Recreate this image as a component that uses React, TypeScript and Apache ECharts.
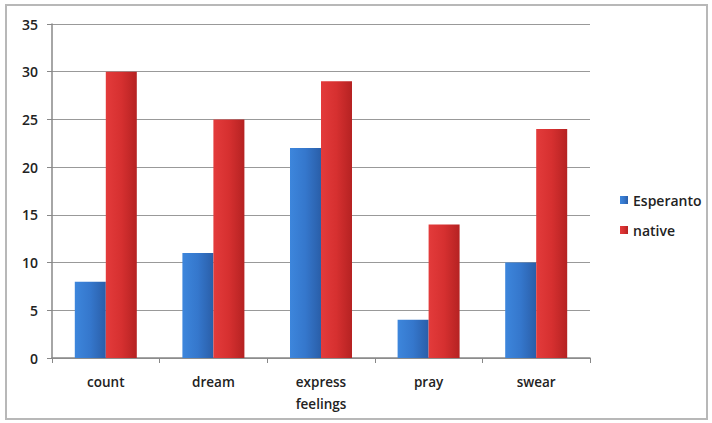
import React, { useEffect, useRef } from "react";
import * as echarts from "echarts";

const categories = ["count", "dream", "express\nfeelings", "pray", "swear"];
const esperanto = [8, 11, 22, 4, 10];
const native = [30, 25, 29, 14, 24];

export default function App() {
  const ref = useRef<HTMLDivElement>(null);
  useEffect(() => {
    const chart = echarts.init(ref.current!, null, { renderer: "svg" });
    const font = "Open Sans";
    const grad = (a: string, b: string, c: string) =>
      new echarts.graphic.LinearGradient(0, 0, 1, 0, [
        { offset: 0, color: a },
        { offset: 0.5, color: b },
        { offset: 1, color: c },
      ]);
    chart.setOption({
      animation: false,
      grid: { left: 52, right: 122, top: 24, bottom: 65 },
      legend: {
        orient: "vertical",
        left: 615,
        top: 188,
        itemWidth: 8,
        itemHeight: 8,
        itemGap: 16,
        icon: "rect",
        textStyle: { fontFamily: font, fontSize: 14, color: "#222", fontWeight: 600 },
        data: ["Esperanto", "native"],
      },
      xAxis: {
        type: "category",
        data: categories,
        axisLine: { lineStyle: { color: "#888", width: 1.5 } },
        axisTick: { show: true, length: 5, lineStyle: { color: "#888" } },
        axisLabel: {
          margin: 13,
          fontFamily: font,
          fontSize: 13.5,
          color: "#222",
          fontWeight: 600,
          lineHeight: 22,
        },
      },
      yAxis: {
        type: "value",
        min: 0,
        max: 35,
        interval: 5,
        axisLine: { show: true, lineStyle: { color: "#888", width: 1.5 } },
        axisTick: { show: true, length: 5, lineStyle: { color: "#888" } },
        splitLine: { lineStyle: { color: "#999" } },
        axisLabel: { margin: 14, fontFamily: font, fontSize: 14, color: "#222", fontWeight: 600 },
      },
      series: [
        {
          name: "Esperanto",
          type: "bar",
          data: esperanto,
          barWidth: 31,
          barGap: "0%",
          itemStyle: { color: grad("#3d86dc", "#3577cc", "#2a5ea8") },
        },
        {
          name: "native",
          type: "bar",
          data: native,
          barWidth: 31,
          barGap: "0%",
          itemStyle: { color: grad("#e33b3b", "#d63030", "#b52222") },
        },
      ],
    });
    return () => chart.dispose();
  }, []);
  return (
    <div
      style={{
        position: "absolute",
        left: 0,
        top: 0,
        width: 712,
        height: 423,
        background: "#fff",
      }}
    >
      <div
        style={{
          position: "absolute",
          left: 5,
          top: 4,
          width: 699,
          height: 412,
          border: "2px solid #b8b8b8",
          boxSizing: "content-box",
        }}
      />
      <div ref={ref} style={{ position: "absolute", left: 0, top: 0, width: 712, height: 423 }} />
    </div>
  );
}
